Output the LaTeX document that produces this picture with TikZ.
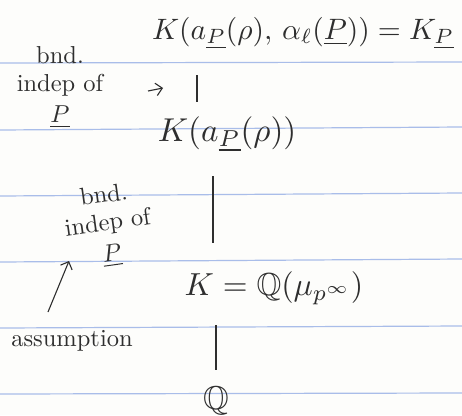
\documentclass[tikz,border=0pt]{standalone}
\usepackage{amssymb}
\usetikzlibrary{arrows.meta,positioning,calc}
\definecolor{Ink}{HTML}{2E2E2E}
\definecolor{RuleBlue}{HTML}{A9BDE9}
\definecolor{Paper}{HTML}{FDFDFB}
\tikzset{
  formula/.style={text=Ink, inner sep=0.5pt, scale=2.95},
  note/.style={text=Ink, inner sep=0.5pt, align=center, scale=2.45, font=\linespread{0.95}\selectfont},
  bar/.style={draw=Ink, line width=1.3pt},
  arrow/.style={-{Straight Barb[length=2.2mm]}, draw=Ink, line width=1.1pt},
  rule/.style={draw=RuleBlue, line width=1.2pt}
}

\begin{document}
\begin{tikzpicture}[x=1pt, y=-1pt]
\fill[Paper] (0,0) rectangle (462,415);
\useasboundingbox (0,0) rectangle (462,415);
% ruled paper
\foreach \yl/\yr in {63/62, 130/127, 196/193, 262/259, 328/326, 394/393}
  \draw[rule] (0,\yl) -- (462,\yr);

\node[formula] (top) at (303,33) {$K(a_{\underline{P}}(\rho),\,\alpha_\ell(\underline{P}))=K_{\underline{P}}$};
\node[formula, scale=1.12] (kap) at (227,134) {$K(a_{\underline{P}}(\rho))$};
\node[formula, scale=1.08] (cyc) at (274,288) {$K=\mathbb{Q}(\mu_{p^\infty})$};
\node[formula, scale=1.12] (rat) at (216,401) {$\mathbb{Q}$};

\node[note] (bnd1) at (60,87) {bnd.\\indep of\\[1.5pt]$\underline{P}$};
\node[note, rotate=8] (bnd2) at (108,226) {bnd.\\indep of\\[1.5pt]$\underline{P}$};
\node[note] (assum) at (72,341) {assumption};

% bars between the fields
\coordinate (b1t) at (197,75);  \coordinate (b1b) at (197,102);
\coordinate (b2t) at (213,176); \coordinate (b2b) at (213,243);
\coordinate (b3t) at (216,325); \coordinate (b3b) at (216,370);
\draw[bar] (b1t) -- (b1b);
\draw[bar] (b2t) -- (b2b);
\draw[bar] (b3t) -- (b3b);

% pointers
\coordinate (p1s) at (148,91); \coordinate (p1e) at (163,88);
\coordinate (p2s) at (48,312); \coordinate (p2e) at (69,261);
\draw[arrow] (p1s) -- (p1e);
\draw[arrow] (p2s) -- (p2e);
\end{tikzpicture}
\end{document}
